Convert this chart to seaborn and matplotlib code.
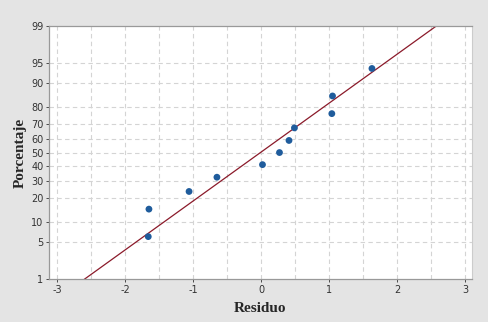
import numpy as np
import pandas as pd
import matplotlib
matplotlib.use("Agg")
import matplotlib.pyplot as plt
import seaborn as sns
from statistics import NormalDist

# Datos (residuos ordenados y porcentaje acumulado)
residuos = [-1.66, -1.65, -1.06, -0.65, 0.02, 0.27, 0.41, 0.49, 1.04, 1.05, 1.63]
porcentajes = [6.1, 14.9, 23.7, 32.5, 41.2, 50.0, 58.8, 67.5, 76.3, 85.1, 93.9]

y_ticks = [1, 5, 10, 20, 30, 40, 50, 60, 70, 80, 90, 95, 99]
x_ticks = [-3, -2, -1, 0, 1, 2, 3]

nd = NormalDist()
def ppf(p):
    return nd.inv_cdf(p / 100.0)

df = pd.DataFrame({"Residuo": residuos,
                   "z": [ppf(p) for p in porcentajes]})

# linea de ajuste normal (media y desv. estandar de los residuos)
mu = np.mean(residuos)
sd = np.std(residuos, ddof=1)
xs = np.linspace(-3.2, 3.2, 50)
linea = pd.DataFrame({"x": xs, "z": (xs - mu) / sd})

sns.set_style("white")
fig = plt.figure(figsize=(4.88, 3.22), dpi=100)
fig.patch.set_facecolor("#e4e4e4")
ax = fig.add_axes([0.1004, 0.1335, 0.8666, 0.7855])
ax.set_facecolor("white")

sns.lineplot(data=linea, x="x", y="z", ax=ax, color="#8b1a2a", lw=0.9)
sns.scatterplot(data=df, x="Residuo", y="z", ax=ax, color="#1f5c9c",
                s=24, edgecolor="none", zorder=3)

ax.set_xlim(-3.12, 3.1)
ax.set_ylim(ppf(1), ppf(99))

ax.set_xticks(x_ticks)
ax.set_xticklabels([str(t) for t in x_ticks])
ax.set_yticks([ppf(t) for t in y_ticks])
ax.set_yticklabels([str(t) for t in y_ticks])
ax.tick_params(axis="both", labelsize=7, colors="#333333", length=2,
               width=0.6, pad=2, direction="out", left=True, bottom=True)

# rejilla discontinua
for gx in np.arange(-3, 3.01, 0.5):
    ax.axvline(gx, color="#d4d4d4", lw=0.8, ls=(0, (4, 3)), zorder=0)
for t in y_ticks[1:-1]:
    ax.axhline(ppf(t), color="#d4d4d4", lw=0.8, ls=(0, (4, 3)), zorder=0)

for s in ["left", "bottom", "top"]:
    ax.spines[s].set_color("#999999")
    ax.spines[s].set_linewidth(0.9)
ax.spines["right"].set_color("#cccccc")

ax.set_xlabel("Residuo", family="Liberation Serif", fontweight="bold",
              fontsize=11, labelpad=5)
ax.set_ylabel("Porcentaje", family="Liberation Serif", fontweight="bold",
              fontsize=11, labelpad=3)

fig.savefig("out.png", dpi=100, facecolor=fig.get_facecolor())
